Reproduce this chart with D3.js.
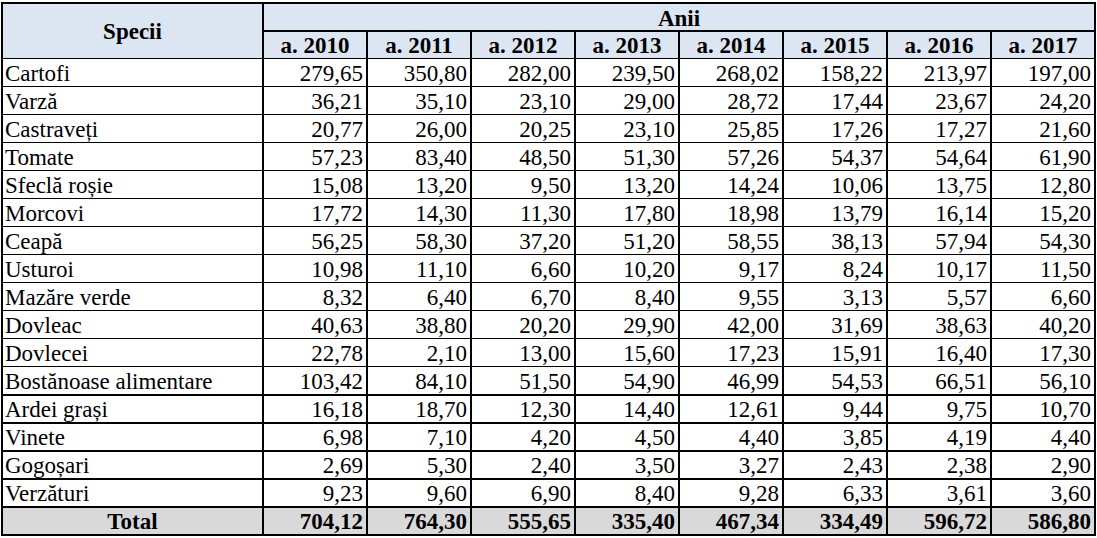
<!DOCTYPE html>
<html>
<head>
<meta charset="utf-8">
<script src="https://cdn.jsdelivr.net/npm/d3@7"></script>
<style>
  html, body { margin: 0; padding: 0; background: #fff; }
  svg { display: block; }
</style>
</head>
<body>
<svg id="chart" width="1097" height="538"></svg>
<script>
// ---- data ----
const species = ["Cartofi","Varză","Castraveți","Tomate","Sfeclă roșie","Morcovi","Ceapă","Usturoi",
  "Mazăre verde","Dovleac","Dovlecei","Bostănoase alimentare","Ardei grași","Vinete","Gogoșari","Verzături"];
const years = ["a. 2010","a. 2011","a. 2012","a. 2013","a. 2014","a. 2015","a. 2016","a. 2017"];
const v2010 = [279.65,36.21,20.77,57.23,15.08,17.72,56.25,10.98,8.32,40.63,22.78,103.42,16.18,6.98,2.69,9.23];
const v2011 = [350.80,35.10,26.00,83.40,13.20,14.30,58.30,11.10,6.40,38.80,2.10,84.10,18.70,7.10,5.30,9.60];
const v2012 = [282.00,23.10,20.25,48.50,9.50,11.30,37.20,6.60,6.70,20.20,13.00,51.50,12.30,4.20,2.40,6.90];
const v2013 = [239.50,29.00,23.10,51.30,13.20,17.80,51.20,10.20,8.40,29.90,15.60,54.90,14.40,4.50,3.50,8.40];
const v2014 = [268.02,28.72,25.85,57.26,14.24,18.98,58.55,9.17,9.55,42.00,17.23,46.99,12.61,4.40,3.27,9.28];
const v2015 = [158.22,17.44,17.26,54.37,10.06,13.79,38.13,8.24,3.13,31.69,15.91,54.53,9.44,3.85,2.43,6.33];
const v2016 = [213.97,23.67,17.27,54.64,13.75,16.14,57.94,10.17,5.57,38.63,16.40,66.51,9.75,4.19,2.38,3.61];
const v2017 = [197.00,24.20,21.60,61.90,12.80,15.20,54.30,11.50,6.60,40.20,17.30,56.10,10.70,4.40,2.90,3.60];
const totals = [704.12,764.30,555.65,335.40,467.34,334.49,596.72,586.80];
const totalLabel = "Total";
const headerSpecies = "Specii";
const headerYears = "Anii";

// ---- build ----
const columns = [v2010,v2011,v2012,v2013,v2014,v2015,v2016,v2017];
const rowKeys = species.concat([totalLabel]);

const svg = d3.select("#chart");
const L = 2, firstColR = 263, R = 1095;
const T = 3, H1 = 31, H2 = 58.5, B = 535;
const fs = 23;
const FONT = '"Liberation Serif", "Times New Roman", Tinos, serif';

const x = d3.scaleBand().domain(years).range([firstColR, R]);
const y = d3.scaleBand().domain(rowKeys).range([H2, B]);

const locale = d3.formatLocale({decimal: ",", thousands: ".", grouping: [3], currency: ["", ""]});
const fmt = locale.format(".2f");

const headerFill = "#dce6f2", totalFill = "#d9d9d9";

// backgrounds
svg.append("rect").attr("x", L).attr("y", T).attr("width", R - L).attr("height", H2 - T).attr("fill", headerFill);
svg.append("rect").attr("x", L).attr("y", y(totalLabel)).attr("width", R - L).attr("height", y.bandwidth()).attr("fill", totalFill);

const txt = (sel) => sel.style("font-family", FONT).style("font-size", fs + "px").attr("fill", "#000");
const DY = "0.37em";

// header text
svg.append("text").call(txt).attr("x", (L + firstColR) / 2).attr("y", (T + H2) / 2).attr("dy", DY)
  .attr("text-anchor", "middle").style("font-weight", "bold").text(headerSpecies);
svg.append("text").call(txt).attr("x", (firstColR + R) / 2).attr("y", (T + H1) / 2).attr("dy", DY)
  .attr("text-anchor", "middle").style("font-weight", "bold").text(headerYears);
svg.selectAll("text.year").data(years).join("text").attr("class", "year").call(txt)
  .attr("x", d => x(d) + x.bandwidth() / 2).attr("y", (H1 + H2) / 2).attr("dy", DY)
  .attr("text-anchor", "middle").style("font-weight", "bold").text(d => d);

// row labels
svg.selectAll("text.sp").data(species).join("text").attr("class", "sp").call(txt)
  .attr("x", L + 3).attr("y", d => y(d) + y.bandwidth() / 2).attr("dy", DY)
  .text(d => d);
svg.append("text").call(txt).attr("x", (L + firstColR) / 2).attr("y", y(totalLabel) + y.bandwidth() / 2).attr("dy", DY)
  .attr("text-anchor", "middle").style("font-weight", "bold").text(totalLabel);

// values
years.forEach((yr, j) => {
  const g = svg.append("g");
  g.selectAll("text").data(columns[j].map((v, i) => ({v, k: species[i]}))).join("text").call(txt)
    .attr("x", x(yr) + x.bandwidth() - 4).attr("y", d => y(d.k) + y.bandwidth() / 2).attr("dy", DY)
    .attr("text-anchor", "end").text(d => fmt(d.v));
  g.append("text").call(txt).attr("x", x(yr) + x.bandwidth() - 4).attr("y", y(totalLabel) + y.bandwidth() / 2).attr("dy", DY)
    .attr("text-anchor", "end").style("font-weight", "bold").text(fmt(totals[j]));
});

// grid lines
const lines = svg.append("g").attr("stroke", "#000").attr("stroke-width", 1.3).attr("shape-rendering", "crispEdges");
lines.append("rect").attr("x", L).attr("y", T).attr("width", R - L).attr("height", B - T).attr("fill", "none");
lines.append("line").attr("x1", firstColR).attr("x2", R).attr("y1", H1).attr("y2", H1);
lines.selectAll("line.h").data(rowKeys).join("line").attr("class", "h")
  .attr("x1", L).attr("x2", R).attr("y1", d => y(d)).attr("y2", d => y(d));
lines.append("line").attr("x1", firstColR).attr("x2", firstColR).attr("y1", T).attr("y2", B);
lines.selectAll("line.v").data(years.slice(1)).join("line").attr("class", "v")
  .attr("x1", d => x(d)).attr("x2", d => x(d)).attr("y1", H1).attr("y2", B);
</script>
</body>
</html>
